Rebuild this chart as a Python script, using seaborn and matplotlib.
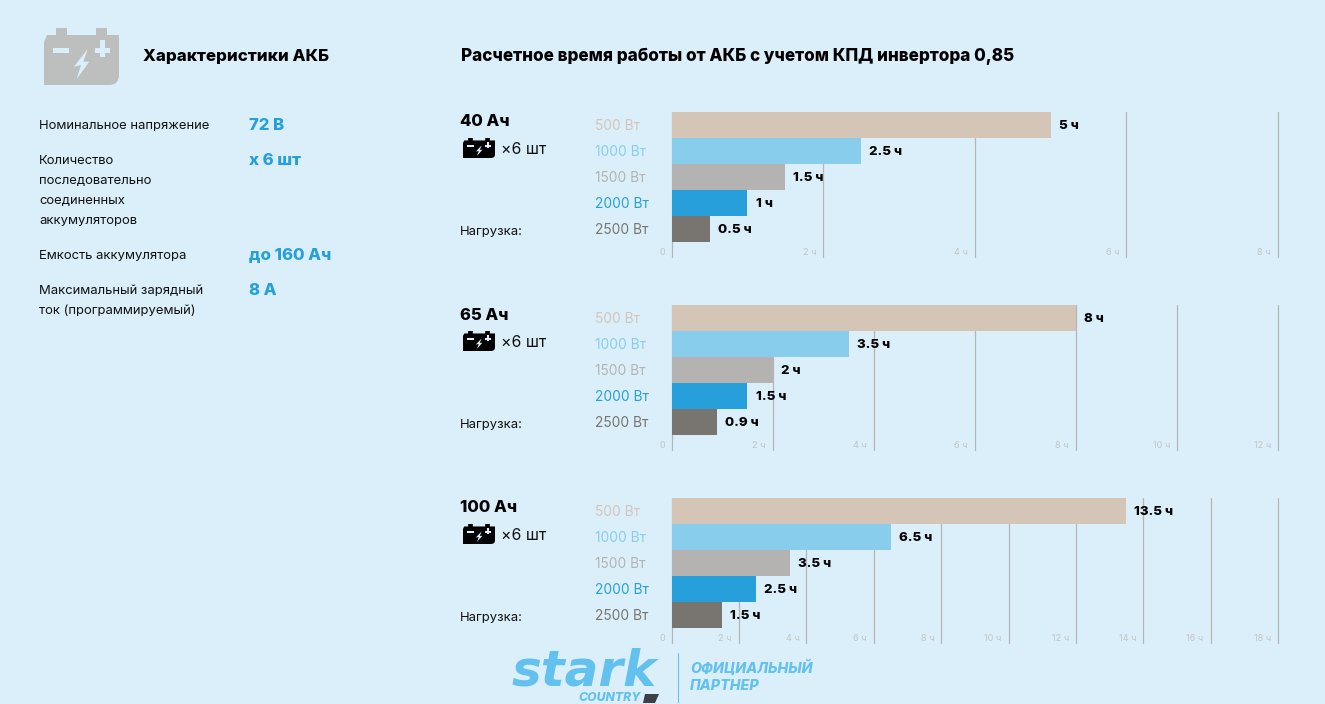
import matplotlib
matplotlib.use('Agg')
import matplotlib.pyplot as plt
from matplotlib.patches import PathPatch, Polygon, Rectangle
from matplotlib.path import Path
import seaborn as sns

# chart data
loads = ["500 Вт", "1000 Вт", "1500 Вт", "2000 Вт", "2500 Вт"]
capacities = ["40 Ач", "65 Ач", "100 Ач"]
hours_40 = [5, 2.5, 1.5, 1, 0.5]
hours_65 = [8, 3.5, 2, 1.5, 0.9]
hours_100 = [13.5, 6.5, 3.5, 2.5, 1.5]
labels_40 = ["5 ч", "2.5 ч", "1.5 ч", "1 ч", "0.5 ч"]
labels_65 = ["8 ч", "3.5 ч", "2 ч", "1.5 ч", "0.9 ч"]
labels_100 = ["13.5 ч", "6.5 ч", "3.5 ч", "2.5 ч", "1.5 ч"]
ticks_40 = [0, 2, 4, 6, 8]
ticks_65 = [0, 2, 4, 6, 8, 10, 12]
ticks_100 = [0, 2, 4, 6, 8, 10, 12, 14, 16, 18]

spec_names = ["Номинальное напряжение",
              "Количество\nпоследовательно\nсоединенных\nаккумуляторов",
              "Емкость аккумулятора",
              "Максимальный зарядный\nток (программируемый)"]
spec_values = ["72 В", "х 6 шт", "до 160 Ач", "8 А"]

bg = '#DBEFFB'
blue = '#279FDB'
logo_blue = '#62C1EE'
colors = ['#D5C5B6', '#89CDEC', '#B5B3B1', '#279FDB', '#78746F']
W, H = 1325, 704

sns.set_theme(style='white')
plt.rcParams['font.family'] = ['Inter', 'DejaVu Sans']

fig = plt.figure(figsize=(W / 100, H / 100), dpi=100, facecolor=bg)

# overlay in pixel units for the text blocks and icons
page = fig.add_axes([0, 0, 1, 1], zorder=5)
page.set_xlim(0, W)
page.set_ylim(H, 0)
page.axis('off')


def battery(x, y, w, h, color, fg):
    """Battery icon, sized off the big one in the header (75x57 px)."""
    def px(a, b):
        return (x + a * w / 75, y + b * h / 57)
    verts = [px(0, 57), px(0, 14), px(3, 7), px(12, 7), px(12, 0), px(23, 0), px(23, 7),
             px(52, 7), px(52, 0), px(63, 0), px(63, 7), px(75, 7), px(75, 47),
             px(75, 57), px(65, 57), px(0, 57)]
    codes = [Path.MOVETO] + [Path.LINETO] * 12 + [Path.CURVE3, Path.CURVE3, Path.LINETO]
    page.add_patch(PathPatch(Path(verts, codes), fc=color, ec='none'))
    page.add_patch(Polygon([px(9, 19.5), px(25, 19.5), px(25, 24.5), px(9, 24.5)], fc=fg, ec='none'))
    page.add_patch(Polygon([px(51, 19.5), px(66, 19.5), px(66, 24.5), px(51, 24.5)], fc=fg, ec='none'))
    page.add_patch(Polygon([px(56, 12), px(61, 12), px(61, 29), px(56, 29)], fc=fg, ec='none'))
    page.add_patch(Polygon([px(43.7, 21), px(30, 38.7), px(37, 37), px(32.7, 51),
                            px(45.3, 33.7), px(39.3, 33.7)], fc=fg, ec='none'))


battery(44, 28, 75, 57, '#BDBFBF', bg)
page.text(143, 56.5, "Характеристики АКБ", fontsize=12.2, fontweight='heavy', color='black', va='center')
page.text(461, 56.5, "Расчетное время работы от АКБ с учетом КПД инвертора 0,85",
          fontsize=12.3, fontweight='heavy', color='black', va='center')

spec_tops = [126, 161, 256, 291]
for name, value, y in zip(spec_names, spec_values, spec_tops):
    for i, line in enumerate(name.split('\n')):
        page.text(39, y + i * 20, line, fontsize=9.4, color='#111111', va='center')
    page.text(249, y - 0.5, value, fontsize=12.1, fontweight='heavy', color=blue, va='center')


def panel(top, name, hours, labels, ticks):
    left = 671.7
    right = 1278
    height = 145
    ax = fig.add_axes([left / W, 1 - (top + height) / H, (right - left) / W, height / H])
    ax.set_facecolor('none')
    sns.barplot(x=hours, y=loads, hue=loads, palette=colors, width=1, dodge=False,
                legend=False, saturation=1, linewidth=0, ax=ax, zorder=3)
    ax.set_xlim(ticks[0], ticks[-1])
    ax.set_ylim(5.077, -0.5)
    ax.set_xticks(ticks)
    ax.set_xticklabels([])
    ax.tick_params(axis='x', length=0)
    ax.tick_params(axis='y', length=0, pad=55.4, labelsize=9.9)
    for lab, c in zip(ax.get_yticklabels(), colors):
        lab.set_ha('left')
        lab.set_color(c)
    ax.grid(axis='x', color='#B5B5B5', lw=0.9, clip_on=False, zorder=1)
    ax.set_axisbelow(True)
    sns.despine(ax=ax, left=True, bottom=True, top=True, right=True)

    for i, (v, lab) in enumerate(zip(hours, labels)):
        ax.annotate(lab, (v, i), xytext=(5.8, -0.5), textcoords='offset points', va='center',
                    fontsize=9.6, fontweight='heavy', color='black', zorder=6)
    for t in ticks:
        tick_lab = str(t) if t == 0 else f"{t} ч"
        ax.annotate(tick_lab, (t, 0), xycoords=('data', 'axes fraction'), xytext=(-5, 3.5),
                    textcoords='offset points', ha='right', va='center',
                    fontsize=6.6, color='#C3C5C6')

    page.text(460, top + 10, name, fontsize=12, fontweight='heavy', color='black', va='center')
    battery(463, top + 26, 32, 20, 'black', bg)
    page.text(501, top + 37.5, "×6 шт", fontsize=11.4, color='#111111', va='center')
    page.text(460, top + 120, "Нагрузка:", fontsize=9.4, color='#111111', va='center')
    return ax


panel(112, capacities[0], hours_40, labels_40, ticks_40)
panel(305, capacities[1], hours_65, labels_65, ticks_65)
panel(498, capacities[2], hours_100, labels_100, ticks_100)

# partner logo
page.text(512, 686, "stark", fontsize=36, fontweight='bold', fontstyle='oblique', family='DejaVu Sans',
          color=logo_blue, va='baseline')
page.text(578, 698, "COUNTRY", fontsize=8.8, fontweight='heavy', fontstyle='italic', color=logo_blue, va='center')
page.add_patch(Polygon([(645, 694), (659, 694), (655, 703), (643, 703)], fc='#3C4146', ec='none'))
page.add_patch(Rectangle((678, 653), 1.2, 50, fc=logo_blue, ec='none'))
page.text(690, 668, "ОФИЦИАЛЬНЫЙ", fontsize=10.3, fontweight='heavy', fontstyle='italic', color=logo_blue, va='center')
page.text(690, 686, "ПАРТНЕР", fontsize=10.3, fontweight='heavy', fontstyle='italic', color=logo_blue, va='center')

fig.savefig('out.png', dpi=100, facecolor=bg)
